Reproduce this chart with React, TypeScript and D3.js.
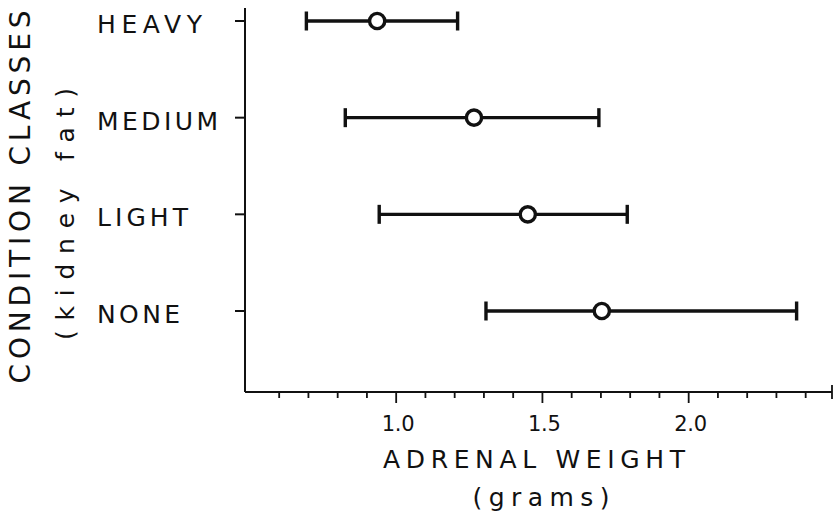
import React from "react";
import * as d3 from "d3";

const categories = ["HEAVY", "MEDIUM", "LIGHT", "NONE"];
const means = [0.935, 1.266, 1.45, 1.703];
const lows = [0.693, 0.826, 0.942, 1.307];
const highs = [1.21, 1.693, 1.79, 2.369];
const majorTicks = [1.0, 1.5, 2.0];
const tickLabels = ["1.0", "1.5", "2.0"];
const minorTicks = [0.6, 0.7, 0.8, 0.9, 1.1, 1.2, 1.3, 1.4, 1.6, 1.7, 1.8, 1.9, 2.1, 2.2, 2.3, 2.4];
const catLabelWidths = [105, 121, 91, 83];

const W = 839;
const H = 514;
const FONT = "'DejaVu Sans', sans-serif";
const INK = "#111";

export default function App() {
  const x = d3.scaleLinear().domain([0.49, 2.49]).range([247, 832]);
  const y = d3.scalePoint<string>().domain(categories).range([21, 311]);
  const axisY = 392;
  const axisX = 245;

  return (
    <svg
      width={W}
      height={H}
      viewBox={`0 0 ${W} ${H}`}
      style={{ position: "absolute", left: 0, top: 0, background: "#fff" }}
    >
      <rect width={W} height={H} fill="#fff" />
      {/* y axis */}
      <line x1={axisX} x2={axisX} y1={8} y2={axisY} stroke={INK} strokeWidth={2} />
      {categories.map((c) => (
        <line key={c} x1={axisX - 10} x2={axisX} y1={y(c)!} y2={y(c)!} stroke={INK} strokeWidth={2} />
      ))}
      {/* x axis */}
      <line x1={axisX} x2={x(2.49)} y1={axisY} y2={axisY} stroke={INK} strokeWidth={2} />
      <line x1={x(2.49)} x2={x(2.49)} y1={axisY - 7} y2={axisY + 7} stroke={INK} strokeWidth={1.8} />
      {minorTicks.map((t) => (
        <line key={t} x1={x(t)} x2={x(t)} y1={axisY} y2={axisY + 6} stroke={INK} strokeWidth={1.8} />
      ))}
      {majorTicks.map((t) => (
        <line key={t} x1={x(t)} x2={x(t)} y1={axisY} y2={axisY + 11} stroke={INK} strokeWidth={1.8} />
      ))}
      {majorTicks.map((t, i) => (
        <text
          key={t}
          x={x(t) + 2}
          y={431}
          fontFamily={FONT}
          fontSize={21}
          textAnchor="middle"
          fill={INK}
          textLength={33}
          lengthAdjust="spacing"
        >
          {tickLabels[i]}
        </text>
      ))}
      {/* category labels */}
      {categories.map((c, i) => (
        <text
          key={c}
          x={97}
          y={y(c)! + 12}
          fontFamily={FONT}
          fontSize={25}
          fill={INK}
          textLength={catLabelWidths[i]}
          lengthAdjust="spacing"
        >
          {c}
        </text>
      ))}
      {/* error bars */}
      {categories.map((c, i) => {
        const yy = y(c)!;
        return (
          <g key={c}>
            <line x1={x(lows[i])} x2={x(highs[i])} y1={yy} y2={yy} stroke={INK} strokeWidth={3.4} />
            <line x1={x(lows[i])} x2={x(lows[i])} y1={yy - 9.5} y2={yy + 9.5} stroke={INK} strokeWidth={3.4} />
            <line x1={x(highs[i])} x2={x(highs[i])} y1={yy - 9.5} y2={yy + 9.5} stroke={INK} strokeWidth={3.4} />
            <circle cx={x(means[i])} cy={yy} r={7.6} fill="#fff" stroke={INK} strokeWidth={3.4} />
          </g>
        );
      })}
      {/* axis titles */}
      <text
        x={534}
        y={468}
        fontFamily={FONT}
        fontSize={25}
        textAnchor="middle"
        fill={INK}
        textLength={302}
        lengthAdjust="spacing"
      >
        ADRENAL WEIGHT
      </text>
      <text
        x={541}
        y={506}
        fontFamily={FONT}
        fontSize={25}
        textAnchor="middle"
        fill={INK}
        textLength={137}
        lengthAdjust="spacing"
      >
        (grams)
      </text>
      <text
        transform="translate(30,197) rotate(-90)"
        fontFamily={FONT}
        fontSize={28}
        textAnchor="middle"
        fill={INK}
        textLength={373}
        lengthAdjust="spacing"
      >
        CONDITION CLASSES
      </text>
      <text
        transform="translate(74,214) rotate(-90)"
        fontFamily={FONT}
        fontSize={25}
        textAnchor="middle"
        fill={INK}
        textLength={252}
        lengthAdjust="spacing"
      >
        (kidney fat)
      </text>
    </svg>
  );
}
